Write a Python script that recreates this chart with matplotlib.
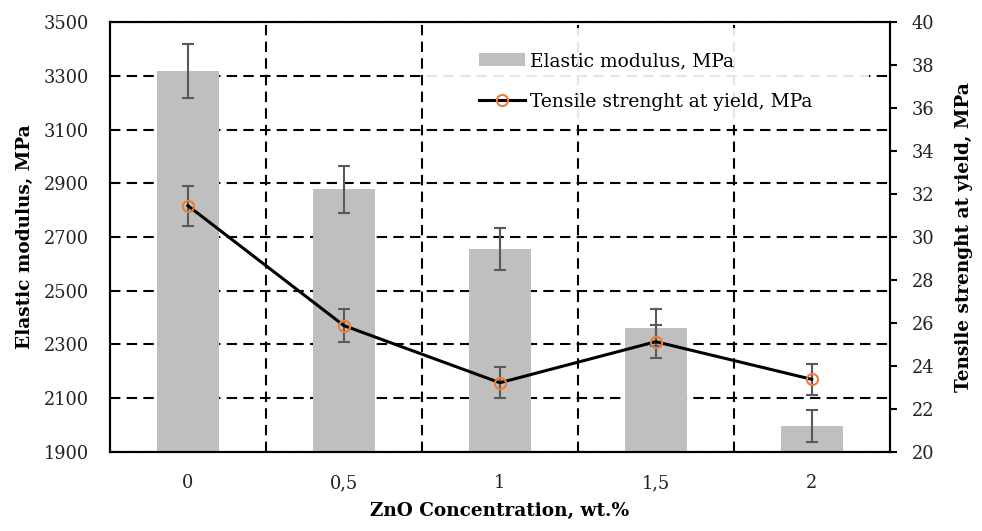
import matplotlib.pyplot as plt
import numpy as np
from matplotlib.patches import Rectangle

plt.rcParams["font.family"] = ["DejaVu Serif", "Liberation Serif"]

concentrations = ["0", "0,5", "1", "1,5", "2"]
elastic_modulus = [3318, 2878, 2654, 2363, 1997]
elastic_err = [100, 88, 78, 69, 60]
tensile_yield = [31.46, 25.88, 23.22, 25.13, 23.38]
tensile_err = [0.94, 0.78, 0.72, 0.76, 0.72]


def main():
    x = np.arange(len(concentrations))
    fig, ax = plt.subplots(figsize=(9.82, 5.31), dpi=100)
    fig.subplots_adjust(left=0.112, right=0.906, top=0.958, bottom=0.149)

    dash = (0, (5, 3))
    ax.bar(x, elastic_modulus, width=0.4, color="#bfbfbf",
           label="Elastic modulus, MPa", zorder=2)
    ax.errorbar(x, elastic_modulus, yerr=elastic_err, fmt="none",
                ecolor="#595959", elinewidth=1.5, capsize=4, capthick=1.5, zorder=3)
    ax.set_ylim(1900, 3500)
    ax.set_yticks(np.arange(1900, 3501, 200))
    ax.set_xlim(-0.5, 4.5)
    ax.set_xticks(x)
    ax.set_xticklabels(concentrations)
    ax.set_xticks(x[:-1] + 0.5, minor=True)
    ax.tick_params(axis="both", which="both", length=0, labelsize=12.8, colors="#222222")
    ax.tick_params(axis="y", pad=15)
    ax.tick_params(axis="x", pad=16)
    ax.grid(True, axis="y", which="major", color="black", linestyle=dash, linewidth=1.5, zorder=1)
    ax.grid(True, axis="x", which="minor", color="black", linestyle=dash, linewidth=1.5, zorder=1)
    ax.set_axisbelow(True)
    ax.set_xlabel("ZnO Concentration, wt.%", fontsize=13.3, fontweight="bold", labelpad=7)
    ax.set_ylabel("Elastic modulus, MPa", fontsize=13.3, fontweight="bold", labelpad=7)
    for s in ax.spines.values():
        s.set_linewidth(1.5)

    # faded backdrop behind the legend
    ax.add_patch(Rectangle((0.401, 0.765), 0.573, 0.221, transform=ax.transAxes,
                           facecolor="white", alpha=0.9, edgecolor="none", zorder=1.5))

    ax2 = ax.twinx()
    ax2.errorbar(x, tensile_yield, yerr=tensile_err, fmt="none",
                 ecolor="#595959", elinewidth=1.5, capsize=4, capthick=1.5, zorder=3)
    ax2.plot(x, tensile_yield, color="black", linewidth=2.2, marker="o",
             markersize=8, markerfacecolor="none", markeredgecolor="#ed7d31",
             markeredgewidth=1.5, label="Tensile strenght at yield, MPa", zorder=4)
    ax2.set_ylim(20, 40)
    ax2.set_yticks(np.arange(20, 41, 2))
    ax2.tick_params(axis="y", direction="out", length=5, width=1.5, labelsize=12.8,
                    pad=11, labelcolor="#222222")
    ax2.set_ylabel("Tensile strenght at yield, MPa", fontsize=13.3, fontweight="bold", labelpad=15)
    for s in ax2.spines.values():
        s.set_linewidth(1.5)

    h1, l1 = ax.get_legend_handles_labels()
    h2, l2 = ax2.get_legend_handles_labels()
    ax2.legend(h1 + h2, l1 + l2, loc="upper left", bbox_to_anchor=(0.473, 0.93),
               fontsize=13.5, frameon=False, borderpad=0, borderaxespad=0,
               handlelength=2.45, handletextpad=0.3, labelspacing=1.2)

    plt.savefig("out.png", dpi=100)


if __name__ == "__main__":
    main()
